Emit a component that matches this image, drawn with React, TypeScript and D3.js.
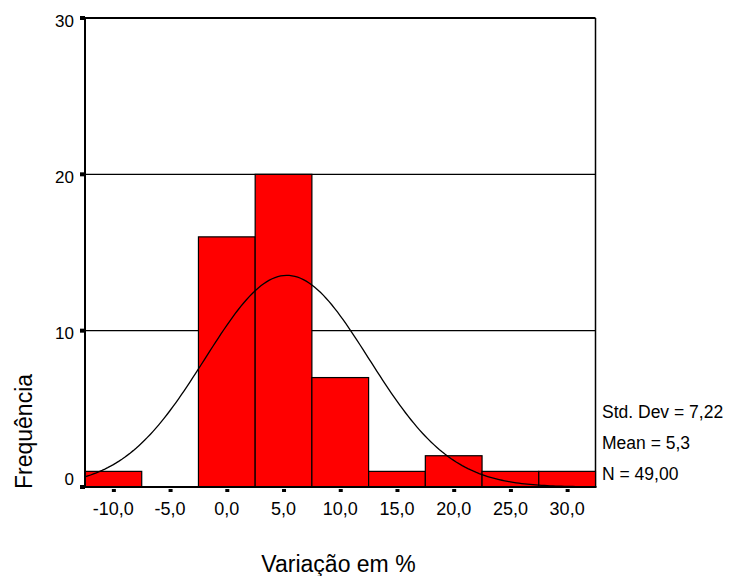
import * as d3 from 'd3';

// histogram bins (centers, width 5)
const binCenters = [-10, -5, 0, 5, 10, 15, 20, 25, 30];
const binCounts = [1, 0, 16, 20, 7, 1, 2, 1, 1];
const xTicks = [-10, -5, 0, 5, 10, 15, 20, 25, 30];
const yTicks = [0, 10, 20, 30];
const gridLines = [10, 20];
const statLines = ['Std. Dev = 7,22', 'Mean = 5,3', 'N = 49,00'];

const stdDev = 7.22;
const mean = 5.3;
const nObs = 49;
const binWidth = 5;

const W = 729;
const H = 576;
const left = 85;
const right = 595.5;
const top = 18;
const bottom = 487;

export default function App() {
  const x = d3.scaleLinear().domain([-12.5, 32.5]).range([left, right]);
  const y = d3.scaleLinear().domain([0, 30]).range([bottom, top]);

  const curvePts = d3.range(-12.5, 32.51, 0.25).map((v) => {
    const z = (v - mean) / stdDev;
    const f = (nObs * binWidth) / (stdDev * Math.sqrt(2 * Math.PI)) * Math.exp(-0.5 * z * z);
    return [v, f] as [number, number];
  });
  const line = d3
    .line<[number, number]>()
    .x((d) => x(d[0]))
    .y((d) => y(d[1]));

  const font = 'Arial, "Liberation Sans", sans-serif';

  return (
    <svg
      width={W}
      height={H}
      style={{ position: 'absolute', left: 0, top: 0, background: '#fff' }}
      fontFamily={font}
    >
      <rect x={0} y={0} width={W} height={H} fill="#fff" />

      {/* grid lines */}
      {gridLines.map((g) => (
        <line key={g} x1={left} x2={right} y1={y(g)} y2={y(g)} stroke="#000" strokeWidth={1.2} />
      ))}

      {/* frame */}
      <line x1={left} x2={right} y1={top} y2={top} stroke="#000" strokeWidth={2} />
      <line x1={right} x2={right} y1={top} y2={bottom} stroke="#000" strokeWidth={1.5} />

      {/* bars */}
      {binCenters.map((c, i) =>
        binCounts[i] > 0 ? (
          <rect
            key={c}
            x={x(c - binWidth / 2)}
            y={y(binCounts[i])}
            width={x(c + binWidth / 2) - x(c - binWidth / 2)}
            height={y(0) - y(binCounts[i])}
            fill="#ff0000"
            stroke="#000"
            strokeWidth={1.2}
          />
        ) : null
      )}

      {/* normal curve */}
      <path d={line(curvePts) || ''} fill="none" stroke="#000" strokeWidth={1.3} />

      {/* axes */}
      <line x1={left} x2={left} y1={top - 1} y2={bottom} stroke="#000" strokeWidth={2} />
      <line x1={left - 4} x2={right + 1} y1={bottom} y2={bottom} stroke="#000" strokeWidth={2} />

      {/* y tick squares */}
      {yTicks.map((t) => (
        <rect key={t} x={left - 5} y={y(t) - 2} width={5} height={4} fill="#000" />
      ))}

      {/* x ticks */}
      {xTicks.map((t) => (
        <g key={t}>
          <rect x={x(t) - 1.5} y={bottom + 2} width={4} height={3} fill="#000" />
          <text x={x(t)} y={bottom + 28} fontSize={18} textAnchor="middle" fill="#000">
            {t.toFixed(1).replace('.', ',')}
          </text>
        </g>
      ))}

      {/* y tick labels */}
      {yTicks.map((t) => (
        <text
          key={t}
          x={left - 11}
          y={t === 0 ? y(t) - 2 : y(t) + 8.5}
          fontSize={17}
          textAnchor="end"
          fill="#000"
        >
          {t}
        </text>
      ))}

      {/* stats */}
      {statLines.map((s, i) => (
        <text key={s} x={602} y={418 + i * 31} fontSize={17.5} fill="#000">
          {s}
        </text>
      ))}

      {/* axis titles */}
      <text x={338.5} y={572} fontSize={23} textAnchor="middle" fill="#000">
        Variação em %
      </text>
      <text
        transform="translate(32,431.5) rotate(-90)"
        fontSize={23}
        textAnchor="middle"
        fill="#000"
      >
        Frequência
      </text>
    </svg>
  );
}
